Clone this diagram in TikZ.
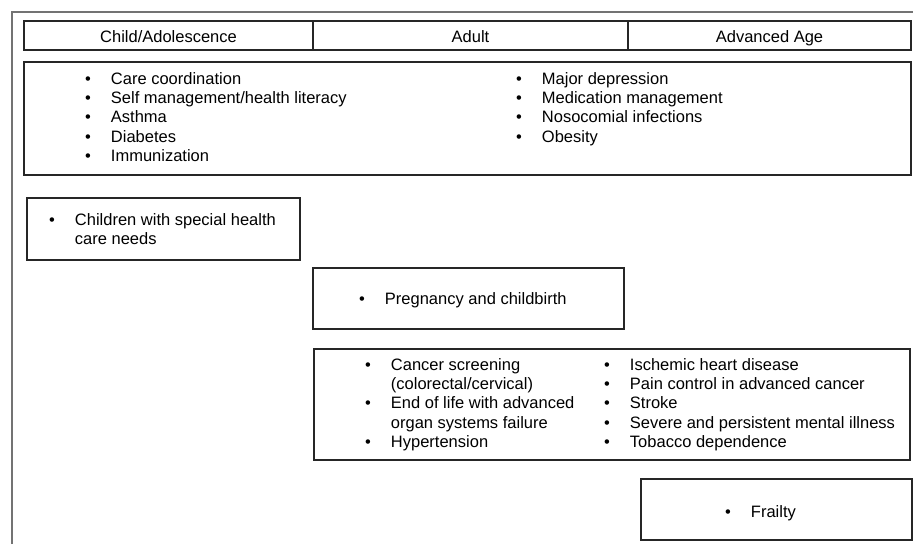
\documentclass[tikz,border=0pt]{standalone}
\usepackage{fontspec}
\setmainfont{Liberation Sans}
\usetikzlibrary{positioning}
\newcommand{\bitems}[1]{\begin{tabular}[t]{@{}l@{\hspace{20pt}}l@{}}#1\end{tabular}}
\tikzset{
  box/.style={draw=black!85,line width=1.4pt},
  cell/.style={box,minimum height=29pt,inner sep=0pt,text height=13pt,text depth=0pt},
  items/.style={anchor=base west,inner sep=0pt}
}
\begin{document}
\begin{tikzpicture}[x=1pt,y=-1pt,font=\fontsize{16.5}{19.4}\selectfont]
\useasboundingbox (0,0) rectangle (913,544);
\draw[black!55,line width=1.6pt] (12,544) -- (12,12) -- (913,12);
% age groups
\node[cell,minimum width=289pt] (child) at (168.5,35.5) {Child/Adolescence};
\node[cell,minimum width=315pt] (adult) at (470.5,35.5) {Adult};
\node[cell,minimum width=283pt] (aged) at (769.5,35.5) {Advanced Age};
% boxes
\draw[box] (24,62) rectangle (911,175);
\draw[box] (27,198) rectangle (300,260);
\draw[box] (313,268) rectangle (624,329);
\draw[box] (314,349) rectangle (910,460);
\draw[box] (641,479) rectangle (912,540);
% lists
\node[items] (allL) at (85,84) {\bitems{\textbullet & Care coordination\\
  \textbullet & Self management/health literacy\\
  \textbullet & Asthma\\
  \textbullet & Diabetes\\
  \textbullet & Immunization}};
\node[items] (allR) at (516,84) {\bitems{\textbullet & Major depression\\
  \textbullet & Medication management\\
  \textbullet & Nosocomial infections\\
  \textbullet & Obesity}};
\node[items] (special) at (49,225) {\bitems{\textbullet & Children with special health\\
  & care needs}};
\node[items] (preg) at (359,304) {\bitems{\textbullet & Pregnancy and childbirth}};
\node[items] (chronL) at (365,370) {\bitems{\textbullet & Cancer screening\\
  & (colorectal/cervical)\\
  \textbullet & End of life with advanced\\
  & organ systems failure\\
  \textbullet & Hypertension}};
\node[items] (chronR) at (604,370) {\bitems{\textbullet & Ischemic heart disease\\
  \textbullet & Pain control in advanced cancer\\
  \textbullet & Stroke\\
  \textbullet & Severe and persistent mental illness\\
  \textbullet & Tobacco dependence}};
\node[items] (frail) at (725,517) {\bitems{\textbullet & Frailty}};
\end{tikzpicture}
\end{document}
